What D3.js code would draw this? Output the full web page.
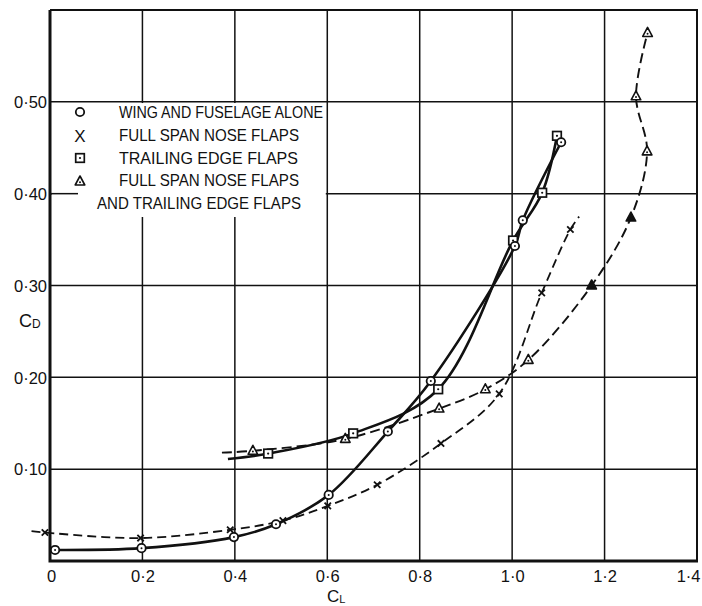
<!DOCTYPE html>
<html><head><meta charset="utf-8">
<script src="https://cdn.jsdelivr.net/npm/d3@7"></script>
<style>body{margin:0;background:#fff}svg{display:block}</style>
</head><body><svg id="c" width="702" height="606"></svg>
<script>
// ---- tick data ----
const xTickValues = [0, 0.2, 0.4, 0.6, 0.8, 1.0, 1.2, 1.4];
const xTickLabels = ["0", "0·2", "0·4", "0·6", "0·8", "1·0", "1·2", "1·4"];
const yTickValues = [0.10, 0.20, 0.30, 0.40, 0.50];
const yTickLabels = ["0·10", "0·20", "0·30", "0·40", "0·50"];

// ---- series: wing and fuselage alone (circles, solid) ----
const wingCL = [0.011, 0.198, 0.398, 0.489, 0.603, 0.731, 0.824, 1.006, 1.023, 1.106];
const wingCD = [0.012, 0.014, 0.026, 0.040, 0.072, 0.141, 0.196, 0.343, 0.371, 0.456];

// ---- series: full span nose flaps (crosses, dashed) ----
const noseCL = [-0.011, 0.196, 0.390, 0.504, 0.601, 0.708, 0.846, 0.972, 1.064, 1.126];
const noseCD = [0.031, 0.025, 0.034, 0.044, 0.060, 0.083, 0.128, 0.182, 0.292, 0.361];
const noseCurveStart = [-0.040, 0.0325];
const noseCurveEnd = [1.145, 0.375];

// ---- series: trailing edge flaps (squares, solid) ----
const teCL = [0.472, 0.656, 0.840, 1.002, 1.065, 1.097];
const teCD = [0.117, 0.139, 0.187, 0.349, 0.401, 0.463];
const teCurveStart = [0.385, 0.111];

// ---- series: nose flaps + trailing edge flaps (triangles, dashed) ----
const bothCL = [0.439, 0.639, 0.842, 0.942, 1.035, 1.172, 1.257, 1.292, 1.268, 1.293];
const bothCD = [0.120, 0.133, 0.166, 0.187, 0.219, 0.300, 0.374, 0.446, 0.506, 0.575];
const bothFilled = [false, false, false, false, false, true, true, false, false, false];
const bothCurveStart = [0.372, 0.118];

const legendLabels = ["WING AND FUSELAGE ALONE", "FULL SPAN NOSE FLAPS", "TRAILING EDGE FLAPS", "FULL SPAN NOSE FLAPS", "AND TRAILING EDGE FLAPS"];

// ---- drawing ----
const svg = d3.select("#c");
const x = d3.scaleLinear().domain([0, 1.4]).range([50, 697]);
const y = d3.scaleLinear().domain([0, 0.6]).range([561, 10]);
const INK = "#111";
const FONT = "'Liberation Sans', Arial, sans-serif";

svg.append("rect").attr("width", 702).attr("height", 606).attr("fill", "#fff");

const grid = svg.append("g").attr("stroke", INK).attr("stroke-width", 1.5);
grid.selectAll("line.v").data(xTickValues.filter(v => v > 0 && v < 1.4)).join("line")
  .attr("class", "v").attr("x1", d => x(d)).attr("x2", d => x(d)).attr("y1", y(0.6)).attr("y2", y(0));
grid.selectAll("line.h").data(yTickValues).join("line")
  .attr("class", "h").attr("x1", x(0)).attr("x2", x(1.4)).attr("y1", d => y(d)).attr("y2", d => y(d));

// legend blank box (covers grid)
const lgX0 = x(0) + 2, lgX1 = x(0.6) - 1.5, lgY0 = y(0.5) + 1.2, lgY1 = 217;
svg.append("rect").attr("x", lgX0).attr("y", lgY0).attr("width", lgX1 - lgX0).attr("height", lgY1 - lgY0).attr("fill", "#fff");
svg.append("line").attr("x1", x(0)).attr("x2", 78).attr("y1", y(0.4)).attr("y2", y(0.4))
  .attr("stroke", INK).attr("stroke-width", 1.5);

// frame
svg.append("path").attr("d", `M${x(0)},${y(0.6)}H${x(1.4)}V${y(0)}`).attr("fill", "none").attr("stroke", INK).attr("stroke-width", 2);
svg.append("path").attr("d", `M${x(0)},${y(0.6)}V${y(0)}H${x(1.4) + 1}`).attr("fill", "none").attr("stroke", INK).attr("stroke-width", 3);

// axes labels via d3 axes
const xAxis = d3.axisBottom(x).tickValues(xTickValues).tickFormat((d, i) => xTickLabels[i]).tickSize(0).tickPadding(0);
const gx = svg.append("g").attr("transform", `translate(0,${y(0)})`).call(xAxis);
gx.select(".domain").remove();
gx.selectAll("text").attr("font-family", FONT).attr("font-size", 16.5).attr("fill", INK).attr("dy", null).attr("y", 21)
  .attr("text-anchor", (d, i) => i === xTickValues.length - 1 ? "end" : "middle")
  .attr("dx", (d, i) => i === xTickValues.length - 1 ? 3 : (i === 0 ? 1 : 0));

const yAxis = d3.axisLeft(y).tickValues(yTickValues).tickFormat((d, i) => yTickLabels[i]).tickSize(0).tickPadding(0);
const gy = svg.append("g").attr("transform", `translate(${x(0) - 3},0)`).call(yAxis);
gy.select(".domain").remove();
gy.selectAll("text").attr("font-family", FONT).attr("font-size", 16.5).attr("fill", INK).attr("dy", "0.35em").attr("x", 0);

// axis titles
const tl = svg.append("text").attr("x", 327).attr("y", 602).attr("font-family", FONT).attr("font-size", 17).attr("fill", INK);
tl.append("tspan").text("C");
tl.append("tspan").attr("font-size", 11).attr("dy", 1).text("L");
const td = svg.append("text").attr("x", 19).attr("y", 327).attr("font-family", FONT).attr("font-size", 18).attr("fill", INK);
td.append("tspan").text("C");
td.append("tspan").attr("font-size", 12).attr("dy", 1).text("D");

// curves
const lineGen = d3.line().x(d => x(d[0])).y(d => y(d[1])).curve(d3.curveCatmullRom.alpha(0.5));
const zip = (a, b) => a.map((v, i) => [v, b[i]]);
const wingPts = zip(wingCL, wingCD);
const nosePts = zip(noseCL, noseCD);
const tePts = zip(teCL, teCD);
const bothPts = zip(bothCL, bothCD);

svg.append("path").attr("d", lineGen(wingPts)).attr("fill", "none").attr("stroke", INK).attr("stroke-width", 2.6);
svg.append("path").attr("d", lineGen([teCurveStart, ...tePts])).attr("fill", "none").attr("stroke", INK).attr("stroke-width", 2.6);
svg.append("path").attr("d", lineGen([noseCurveStart, ...nosePts, noseCurveEnd])).attr("fill", "none").attr("stroke", INK)
  .attr("stroke-width", 1.8).attr("stroke-dasharray", "9,5");
svg.append("path").attr("d", lineGen([bothCurveStart, ...bothPts])).attr("fill", "none").attr("stroke", INK)
  .attr("stroke-width", 1.9).attr("stroke-dasharray", "10,5");

// markers
function circleMark(g, cx, cy, dot) {
  g.append("circle").attr("cx", cx).attr("cy", cy).attr("r", 4.2).attr("fill", "#fff").attr("stroke", INK).attr("stroke-width", 1.8);
  if (dot) g.append("circle").attr("cx", cx).attr("cy", cy).attr("r", 1).attr("fill", INK);
}
function squareMark(g, cx, cy) {
  g.append("rect").attr("x", cx - 4.3).attr("y", cy - 4.3).attr("width", 8.6).attr("height", 8.6).attr("fill", "#fff").attr("stroke", INK).attr("stroke-width", 1.7);
  g.append("circle").attr("cx", cx).attr("cy", cy).attr("r", 1.1).attr("fill", INK);
}
function triMark(g, cx, cy, filled) {
  g.append("path").attr("d", `M${cx},${cy - 5.5}L${cx + 4.8},${cy + 3.5}L${cx - 4.8},${cy + 3.5}Z`)
    .attr("fill", filled ? INK : "#fff").attr("stroke", INK).attr("stroke-width", 1.6).attr("stroke-linejoin", "round");
  if (!filled) g.append("circle").attr("cx", cx).attr("cy", cy + 0.8).attr("r", 1).attr("fill", INK);
}
function crossMark(g, cx, cy, s) {
  g.append("path").attr("d", `M${cx - s},${cy - s}L${cx + s},${cy + s}M${cx + s},${cy - s}L${cx - s},${cy + s}`)
    .attr("stroke", INK).attr("stroke-width", 1.8).attr("fill", "none");
}

const mk = svg.append("g");
nosePts.forEach(p => crossMark(mk, x(p[0]), y(p[1]), 3.2));
bothPts.forEach((p, i) => triMark(mk, x(p[0]), y(p[1]), bothFilled[i]));
tePts.forEach(p => squareMark(mk, x(p[0]), y(p[1])));
wingPts.forEach(p => circleMark(mk, x(p[0]), y(p[1]), true));

// legend
const lg = svg.append("g");
const rowY = [112, 135.5, 158, 180.5, 203.5];
const rowX = [119, 119, 119, 119, 97];
const rowW = [204, 180, 179, 180, 204];
circleMark(lg, 80, rowY[0], false);
lg.append("text").attr("x", 80).attr("y", rowY[1]).attr("dy", "0.36em").attr("text-anchor", "middle")
  .attr("font-family", FONT).attr("font-size", 17).attr("fill", INK).text("X");
squareMark(lg, 80, rowY[2]);
triMark(lg, 80, rowY[3] + 1, false);
lg.selectAll("text.lab").data(legendLabels).join("text").attr("class", "lab")
  .attr("x", (d, i) => rowX[i]).attr("y", (d, i) => rowY[i]).attr("dy", "0.36em")
  .attr("textLength", (d, i) => rowW[i]).attr("lengthAdjust", "spacingAndGlyphs")
  .attr("font-family", FONT).attr("font-size", 16.5).attr("fill", INK).text(d => d);
</script>
</body></html>
